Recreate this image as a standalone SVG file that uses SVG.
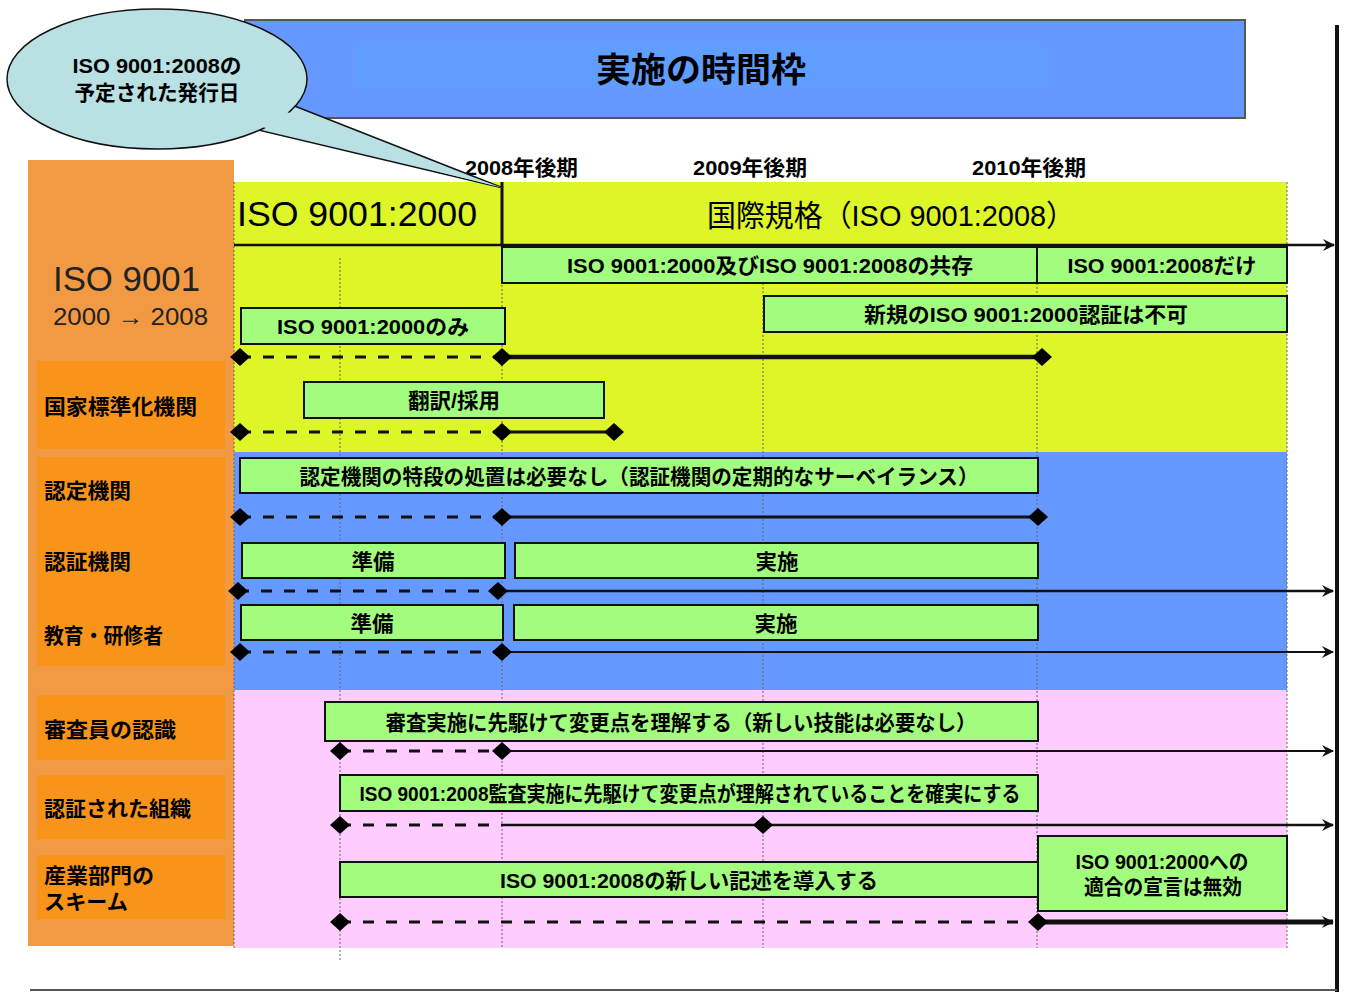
<svg xmlns="http://www.w3.org/2000/svg" width="1346" height="992" viewBox="0 0 1346 992">
<style>
text{font-family:"Liberation Sans","Noto Sans CJK JP",sans-serif;fill:#000}
.b{font-weight:bold}
.box{fill:#a2fd7e;stroke:#111;stroke-width:2}
.lbl{font-size:21px;font-weight:bold;text-anchor:middle}
.side{font-size:21px;font-weight:bold}
.yr{font-size:21px;font-weight:bold}
.dash{stroke:#111;stroke-width:3;stroke-dasharray:11 12;fill:none}
.sol{stroke:#111;fill:none}
.dot{stroke:#666;stroke-width:1;stroke-dasharray:2 2;fill:none}
</style>
<defs>
<marker id="arr" markerWidth="12" markerHeight="12" viewBox="0 0 12 12" refX="11" refY="6" orient="auto" markerUnits="userSpaceOnUse">
<path d="M0,0 L12,6 L0,12 L4,6 z" fill="#111"/>
</marker>
<path id="d" d="M-10,0 L0,-9 L10,0 L0,9 z"/>
</defs>
<rect width="1346" height="992" fill="#fff"/>
<g id="title">
<rect x="245" y="20" width="1000" height="98" fill="#6699ff" stroke="#555" stroke-width="2"/>
<rect x="355" y="45" width="690" height="43" fill="#5f9dff"/>
<text x="701" y="82" font-size="34" text-anchor="middle" class="b" textLength="210" lengthAdjust="spacingAndGlyphs">実施の時間枠</text>
</g>
<g id="bands">
<rect x="28" y="160" width="206" height="786" fill="#f29a43"/>
<rect x="37" y="361" width="188" height="88" fill="#f8941a"/>
<rect x="37" y="457" width="188" height="209" fill="#f8941a"/>
<rect x="37" y="695" width="188" height="65" fill="#f8941a"/>
<rect x="37" y="775" width="188" height="64" fill="#f8941a"/>
<rect x="37" y="855" width="188" height="64" fill="#f8941a"/>
<rect x="234" y="182" width="1053" height="270" fill="#def527"/>
<rect x="234" y="452" width="1053" height="238" fill="#6699ff"/>
<rect x="234" y="690" width="1053" height="258" fill="#ffccff"/>
</g>
<g id="gridlines">
<line class="dot" x1="340" y1="258" x2="340" y2="960"/>
<line class="dot" x1="502" y1="245" x2="502" y2="948"/>
<line class="dot" x1="763" y1="283" x2="763" y2="948"/>
<line class="dot" x1="1037" y1="283" x2="1037" y2="948"/>
<line class="dot" x1="1287" y1="182" x2="1287" y2="948"/>
<line class="dot" x1="234" y1="182" x2="234" y2="948"/>
</g>
<g id="years">
<text x="465" y="175" class="yr" textLength="113" lengthAdjust="spacingAndGlyphs">2008年後期</text>
<text x="693" y="175" class="yr" textLength="114" lengthAdjust="spacingAndGlyphs">2009年後期</text>
<text x="972" y="175" class="yr" textLength="114" lengthAdjust="spacingAndGlyphs">2010年後期</text>
</g>
<g id="side-labels">
<text x="53" y="291" font-size="35" style="fill:#222" textLength="147" lengthAdjust="spacingAndGlyphs">ISO 9001</text>
<text x="53" y="325" font-size="24" style="fill:#222" textLength="155" lengthAdjust="spacingAndGlyphs">2000 → 2008</text>
<text x="44" y="414" class="side" textLength="153" lengthAdjust="spacingAndGlyphs">国家標準化機関</text>
<text x="44" y="498" class="side" textLength="87" lengthAdjust="spacingAndGlyphs">認定機関</text>
<text x="44" y="569" class="side" textLength="87" lengthAdjust="spacingAndGlyphs">認証機関</text>
<text x="44" y="643" class="side" textLength="119" lengthAdjust="spacingAndGlyphs">教育・研修者</text>
<text x="44" y="737" class="side" textLength="132" lengthAdjust="spacingAndGlyphs">審査員の認識</text>
<text x="44" y="816" class="side" textLength="147" lengthAdjust="spacingAndGlyphs">認証された組織</text>
<text x="44" y="883" class="side" textLength="110" lengthAdjust="spacingAndGlyphs">産業部門の</text>
<text x="44" y="909" class="side" textLength="84" lengthAdjust="spacingAndGlyphs">スキーム</text>
</g>
<g id="phase">
<text x="237" y="226" font-size="35" textLength="240" lengthAdjust="spacingAndGlyphs">ISO 9001:2000</text>
<text x="891" y="226" font-size="30" text-anchor="middle" textLength="368" lengthAdjust="spacingAndGlyphs">国際規格（ISO 9001:2008）</text>
</g>
<g id="connectors">
<line x1="234" y1="245" x2="1334" y2="245" stroke="#111" stroke-width="2.5" marker-end="url(#arr)"/>
<line x1="502" y1="182" x2="502" y2="245" stroke="#111" stroke-width="3"/>
<line class="dash" x1="240" y1="357" x2="502" y2="357"/>
<line class="sol" x1="502" y1="357" x2="1042" y2="357" stroke-width="4.5"/>
<line class="dash" x1="240" y1="432" x2="502" y2="432"/>
<line class="sol" x1="502" y1="432" x2="614" y2="432" stroke-width="3"/>
<line class="dash" x1="240" y1="517" x2="502" y2="517"/>
<line class="sol" x1="502" y1="517" x2="1038" y2="517" stroke-width="3"/>
<line class="dash" x1="238" y1="591" x2="498" y2="591"/>
<line class="sol" x1="498" y1="591" x2="1333" y2="591" stroke-width="2.5" marker-end="url(#arr)"/>
<line class="dash" x1="240" y1="652" x2="502" y2="652"/>
<line class="sol" x1="502" y1="652" x2="1333" y2="652" stroke-width="2" marker-end="url(#arr)"/>
<line class="dash" x1="340" y1="751" x2="502" y2="751"/>
<line class="sol" x1="502" y1="751" x2="1333" y2="751" stroke-width="2" marker-end="url(#arr)"/>
<line class="dash" x1="340" y1="825" x2="502" y2="825"/>
<line class="sol" x1="502" y1="825" x2="1333" y2="825" stroke-width="2.5" marker-end="url(#arr)"/>
<line class="dash" x1="340" y1="922" x2="1038" y2="922"/>
<line class="sol" x1="1038" y1="922" x2="1333" y2="922" stroke-width="5" marker-end="url(#arr)"/>
<use href="#d" x="240" y="357"/><use href="#d" x="502" y="357"/><use href="#d" x="1042" y="357"/>
<use href="#d" x="240" y="432"/><use href="#d" x="502" y="432"/><use href="#d" x="614" y="432"/>
<use href="#d" x="240" y="517"/><use href="#d" x="502" y="517"/><use href="#d" x="1038" y="517"/>
<use href="#d" x="238" y="591"/><use href="#d" x="498" y="591"/>
<use href="#d" x="240" y="652"/><use href="#d" x="502" y="652"/>
<use href="#d" x="340" y="751"/><use href="#d" x="502" y="751"/>
<use href="#d" x="340" y="825"/><use href="#d" x="763" y="825"/>
<use href="#d" x="340" y="922"/><use href="#d" x="1038" y="922"/>
</g>
<g id="n-coexist"><rect class="box" x="502" y="247" width="535" height="36"/><text class="lbl" x="770" y="273" textLength="406" lengthAdjust="spacingAndGlyphs">ISO 9001:2000及びISO 9001:2008の共存</text></g>
<g id="n-only2008"><rect class="box" x="1037" y="247" width="250" height="36"/><text class="lbl" x="1162" y="273" textLength="189" lengthAdjust="spacingAndGlyphs">ISO 9001:2008だけ</text></g>
<g id="n-nonew"><rect class="box" x="764" y="296" width="523" height="36"/><text class="lbl" x="1026" y="322" textLength="324" lengthAdjust="spacingAndGlyphs">新規のISO 9001:2000認証は不可</text></g>
<g id="n-only2000"><rect class="box" x="241" y="308" width="264" height="36"/><text class="lbl" x="373" y="334" textLength="192" lengthAdjust="spacingAndGlyphs">ISO 9001:2000のみ</text></g>
<g id="n-translate"><rect class="box" x="304" y="382" width="300" height="36"/><text class="lbl" x="454" y="408" textLength="92" lengthAdjust="spacingAndGlyphs">翻訳/採用</text></g>
<g id="n-accred"><rect class="box" x="240" y="458" width="798" height="35"/><text class="lbl" x="639" y="484" textLength="679" lengthAdjust="spacingAndGlyphs">認定機関の特段の処置は必要なし（認証機関の定期的なサーベイランス）</text></g>
<g id="n-cb-prep"><rect class="box" x="242" y="543" width="263" height="35"/><text class="lbl" x="373" y="569" textLength="43" lengthAdjust="spacingAndGlyphs">準備</text></g>
<g id="n-cb-impl"><rect class="box" x="515" y="543" width="523" height="35"/><text class="lbl" x="777" y="569" textLength="43" lengthAdjust="spacingAndGlyphs">実施</text></g>
<g id="n-tr-prep"><rect class="box" x="241" y="605" width="262" height="35"/><text class="lbl" x="372" y="631" textLength="43" lengthAdjust="spacingAndGlyphs">準備</text></g>
<g id="n-tr-impl"><rect class="box" x="514" y="605" width="524" height="35"/><text class="lbl" x="776" y="631" textLength="43" lengthAdjust="spacingAndGlyphs">実施</text></g>
<g id="n-auditor"><rect class="box" x="325" y="702" width="713" height="39"/><text class="lbl" x="681" y="730" textLength="591" lengthAdjust="spacingAndGlyphs">審査実施に先駆けて変更点を理解する（新しい技能は必要なし）</text></g>
<g id="n-org"><rect class="box" x="340" y="775" width="698" height="36"/><text class="lbl" x="690" y="801" textLength="661" lengthAdjust="spacingAndGlyphs">ISO 9001:2008監査実施に先駆けて変更点が理解されていることを確実にする</text></g>
<g id="n-scheme"><rect class="box" x="340" y="862" width="698" height="35"/><text class="lbl" x="689" y="888" textLength="378" lengthAdjust="spacingAndGlyphs">ISO 9001:2008の新しい記述を導入する</text></g>
<g id="n-invalid"><rect class="box" x="1038" y="836" width="249" height="75"/><text class="lbl" x="1162" y="869" textLength="173" lengthAdjust="spacingAndGlyphs">ISO 9001:2000への</text><text class="lbl" x="1163" y="894" textLength="158" lengthAdjust="spacingAndGlyphs">適合の宣言は無効</text></g>
<g id="bubble">
<path d="M292,105 L503,188 L258,130 Z" fill="#b9e1e4" stroke="#111" stroke-width="1.5"/>
<ellipse cx="157" cy="79" rx="150" ry="70" fill="#b9e1e4" stroke="#111" stroke-width="1.5"/>
<path d="M287,112 L503,188 L262,127" fill="#b9e1e4" stroke="none"/>
<text x="157" y="73" font-size="21" text-anchor="middle" class="b" textLength="169" lengthAdjust="spacingAndGlyphs">ISO 9001:2008の</text>
<text x="157" y="100" font-size="21" text-anchor="middle" class="b" textLength="165" lengthAdjust="spacingAndGlyphs">予定された発行日</text>
</g>
<g id="frame">
<line x1="1337" y1="25" x2="1337" y2="992" stroke="#111" stroke-width="4"/>
<line x1="30" y1="990" x2="1337" y2="990" stroke="#555" stroke-width="2"/>
</g>
</svg>
